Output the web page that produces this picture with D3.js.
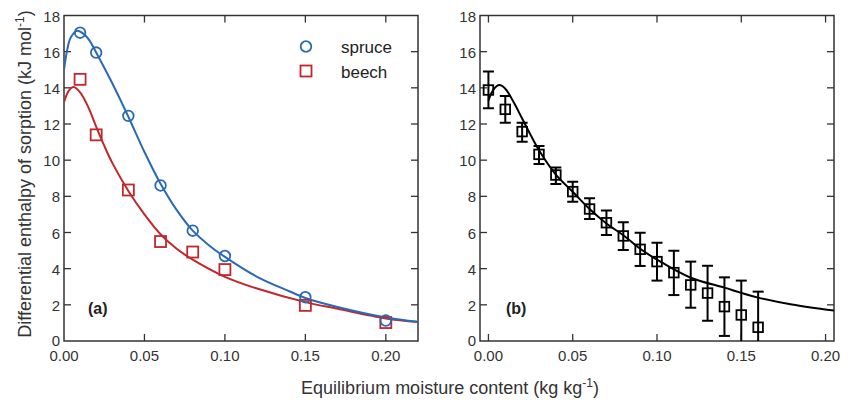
<!DOCTYPE html>
<html>
<head>
<meta charset="utf-8">
<script src="https://cdn.jsdelivr.net/npm/d3@7"></script>
<style>
  html, body { margin: 0; padding: 0; background: #fff; }
  svg { display: block; font-family: "Liberation Sans", Arial, sans-serif; }
</style>
</head>
<body>
<svg id="chart" width="854" height="400"></svg>
<script>
// Panel (a): measured enthalpy for spruce and beech
const moistureA = [0.01, 0.02, 0.04, 0.06, 0.08, 0.10, 0.15, 0.20];
const spruce = [17.05, 15.95, 12.45, 8.6, 6.1, 4.7, 2.42, 1.13];
const beech = [14.47, 11.4, 8.35, 5.5, 4.92, 3.95, 1.97, 1.02];

// Panel (a): fitted curves
const spruceFitX = [0, 0.002, 0.004, 0.008, 0.012, 0.016, 0.02, 0.03, 0.04, 0.05, 0.06, 0.07, 0.08, 0.09, 0.10, 0.12, 0.14, 0.15, 0.17, 0.20, 0.22];
const spruceFitY = [15.0, 16.1, 16.75, 17.15, 17.0, 16.6, 15.95, 14.25, 12.4, 10.45, 8.7, 7.25, 6.1, 5.3, 4.65, 3.55, 2.75, 2.38, 1.88, 1.3, 1.06];
const beechFitX = [0, 0.003, 0.006, 0.01, 0.015, 0.02, 0.025, 0.03, 0.04, 0.05, 0.06, 0.07, 0.08, 0.10, 0.12, 0.15, 0.17, 0.20, 0.22];
const beechFitY = [13.2, 13.85, 14.05, 13.75, 12.95, 11.85, 10.8, 9.85, 8.3, 7.0, 5.9, 5.1, 4.5, 3.55, 2.9, 2.15, 1.78, 1.25, 1.05];

// Panel (b): mean values with error bars
const moistureB = [0.00, 0.01, 0.02, 0.03, 0.04, 0.05, 0.06, 0.07, 0.08, 0.09, 0.10, 0.11, 0.12, 0.13, 0.14, 0.15, 0.16];
const meanB = [13.88, 12.81, 11.58, 10.32, 9.18, 8.26, 7.3, 6.54, 5.81, 5.07, 4.39, 3.78, 3.1, 2.65, 1.9, 1.44, 0.76];
const lowB  = [12.87, 12.07, 11.02, 9.79, 8.68, 7.7, 6.75, 5.86, 5.03, 4.15, 3.34, 2.54, 1.84, 1.12, 0.28, -0.46, -1.2];
const highB = [14.9, 13.55, 12.07, 10.79, 9.6, 8.81, 7.9, 7.21, 6.56, 5.99, 5.44, 4.99, 4.39, 4.16, 3.52, 3.34, 2.73];

// Panel (b): fitted curve
const fitBX = [0, 0.003, 0.0065, 0.01, 0.015, 0.02, 0.025, 0.03, 0.04, 0.05, 0.06, 0.07, 0.08, 0.09, 0.10, 0.12, 0.14, 0.15, 0.16, 0.18, 0.205];
const fitBY = [13.3, 13.9, 14.15, 13.95, 13.2, 12.3, 11.4, 10.55, 9.2, 8.25, 7.3, 6.5, 5.85, 5.1, 4.5, 3.5, 2.95, 2.66, 2.4, 2.02, 1.68];

const xTicks = [0, 0.05, 0.10, 0.15, 0.20];
const yTicks = [0, 2, 4, 6, 8, 10, 12, 14, 16, 18];

const svg = d3.select("#chart");
const axisColor = "#333";
const blue = "#2a6ab4";
const red = "#c1272d";

const plotTop = 15.5, plotBottom = 341;
const y = d3.scaleLinear().domain([0, 18]).range([plotBottom, plotTop]);

const xA = d3.scaleLinear().domain([0, 0.22]).range([64, 418]);
const xB = d3.scaleLinear().domain([-0.005, 0.205]).range([480, 834]);

const defs = svg.append("defs");

function frame(x, id, showZeroTick) {
  const [x0, x1] = x.range();
  defs.append("clipPath").attr("id", id)
    .append("rect").attr("x", x0).attr("y", plotTop).attr("width", x1 - x0).attr("height", plotBottom - plotTop);

  const g = svg.append("g");
  const tl = 7;
  const xt = xTicks.filter(t => showZeroTick || t > 0);
  const yt = yTicks.filter(t => t > 0 && t < 18);
  // inward ticks on all four sides
  g.selectAll(".tb").data(xt).join("line")
    .attr("x1", d => x(d)).attr("x2", d => x(d)).attr("y1", plotBottom).attr("y2", plotBottom - tl)
    .attr("stroke", axisColor).attr("stroke-width", 1.3);
  g.selectAll(".tt").data(xt).join("line")
    .attr("x1", d => x(d)).attr("x2", d => x(d)).attr("y1", plotTop).attr("y2", plotTop + tl)
    .attr("stroke", axisColor).attr("stroke-width", 1.3);
  g.selectAll(".tlft").data(yt).join("line")
    .attr("x1", x0).attr("x2", x0 + tl).attr("y1", d => y(d)).attr("y2", d => y(d))
    .attr("stroke", axisColor).attr("stroke-width", 1.3);
  g.selectAll(".trgt").data(yt).join("line")
    .attr("x1", x1).attr("x2", x1 - tl).attr("y1", d => y(d)).attr("y2", d => y(d))
    .attr("stroke", axisColor).attr("stroke-width", 1.3);
  g.append("rect").attr("x", x0).attr("y", plotTop).attr("width", x1 - x0).attr("height", plotBottom - plotTop)
    .attr("fill", "none").attr("stroke", axisColor).attr("stroke-width", 1.5);

  // tick labels
  g.selectAll(".xl").data(xTicks).join("text")
    .attr("x", d => x(d)).attr("y", 361)
    .attr("text-anchor", "middle").attr("font-size", 15).attr("fill", axisColor)
    .text(d => d3.format(".2f")(d));
  g.selectAll(".yl").data(yTicks).join("text")
    .attr("x", x0 - 4).attr("y", d => y(d) + (d === 0 ? 4.5 : 6))
    .attr("text-anchor", "end").attr("font-size", 15).attr("fill", axisColor)
    .text(d => d);
  return g;
}

// ---------- panel (a) ----------
frame(xA, "clipA", false);
const gA = svg.append("g").attr("clip-path", "url(#clipA)");
const smooth = d3.line().curve(d3.curveCatmullRom.alpha(0.5));

gA.append("path")
  .attr("d", smooth(beechFitX.map((v, i) => [xA(v), y(beechFitY[i])])))
  .attr("fill", "none").attr("stroke", red).attr("stroke-width", 2);
gA.append("path")
  .attr("d", smooth(spruceFitX.map((v, i) => [xA(v), y(spruceFitY[i])])))
  .attr("fill", "none").attr("stroke", blue).attr("stroke-width", 2);

svg.append("g").selectAll("rect").data(moistureA).join("rect")
  .attr("x", d => xA(d) - 5.5).attr("y", (d, i) => y(beech[i]) - 5.5)
  .attr("width", 11).attr("height", 11)
  .attr("fill", "none").attr("stroke", red).attr("stroke-width", 1.8);
svg.append("g").selectAll("circle").data(moistureA).join("circle")
  .attr("cx", d => xA(d)).attr("cy", (d, i) => y(spruce[i])).attr("r", 5.3)
  .attr("fill", "none").attr("stroke", blue).attr("stroke-width", 1.8);

// legend
const leg = svg.append("g");
leg.append("circle").attr("cx", 306).attr("cy", 46.5).attr("r", 5.3)
  .attr("fill", "none").attr("stroke", blue).attr("stroke-width", 1.8);
leg.append("rect").attr("x", 300.5).attr("y", 65.5).attr("width", 11).attr("height", 11)
  .attr("fill", "none").attr("stroke", red).attr("stroke-width", 1.8);
leg.append("text").attr("x", 341).attr("y", 52.5).attr("font-size", 17).attr("fill", "#222").text("spruce");
leg.append("text").attr("x", 341).attr("y", 77.5).attr("font-size", 17).attr("fill", "#222").text("beech");

svg.append("text").attr("x", 88).attr("y", 314).attr("font-size", 16).attr("font-weight", "bold")
  .attr("fill", "#222").text("(a)");

// ---------- panel (b) ----------
frame(xB, "clipB", true);
const gB = svg.append("g").attr("clip-path", "url(#clipB)");

gB.append("path")
  .attr("d", smooth(fitBX.map((v, i) => [xB(v), y(fitBY[i])])))
  .attr("fill", "none").attr("stroke", "#000").attr("stroke-width", 2);

const eb = gB.append("g").attr("stroke", "#000").attr("stroke-width", 2);
moistureB.forEach((m, i) => {
  const cx = xB(m);
  eb.append("line").attr("x1", cx).attr("x2", cx).attr("y1", y(lowB[i])).attr("y2", y(highB[i]));
  eb.append("line").attr("x1", cx - 5.5).attr("x2", cx + 5.5).attr("y1", y(highB[i])).attr("y2", y(highB[i]));
  eb.append("line").attr("x1", cx - 5.5).attr("x2", cx + 5.5).attr("y1", y(lowB[i])).attr("y2", y(lowB[i]));
});
svg.append("g").selectAll("rect").data(moistureB).join("rect")
  .attr("x", d => xB(d) - 4.8).attr("y", (d, i) => y(meanB[i]) - 4.8)
  .attr("width", 9.6).attr("height", 9.6)
  .attr("fill", "none").attr("stroke", "#000").attr("stroke-width", 1.8);

svg.append("text").attr("x", 506).attr("y", 314).attr("font-size", 16).attr("font-weight", "bold")
  .attr("fill", "#222").text("(b)");

// ---------- shared axis titles ----------
const xt = svg.append("text").attr("x", 450).attr("y", 394).attr("text-anchor", "middle")
  .attr("font-size", 18).attr("fill", "#333");
xt.append("tspan").text("Equilibrium moisture content (kg kg");
xt.append("tspan").attr("dy", -7).attr("font-size", 12).text("-1");
xt.append("tspan").attr("dy", 7).text(")");

const yt = svg.append("text").attr("transform", "translate(31,174) rotate(-90)")
  .attr("text-anchor", "middle").attr("font-size", 18).attr("fill", "#333");
yt.append("tspan").text("Differential enthalpy of sorption (kJ mol");
yt.append("tspan").attr("dy", -7).attr("font-size", 12).text("-1");
yt.append("tspan").attr("dy", 7).text(")");
</script>
</body>
</html>
